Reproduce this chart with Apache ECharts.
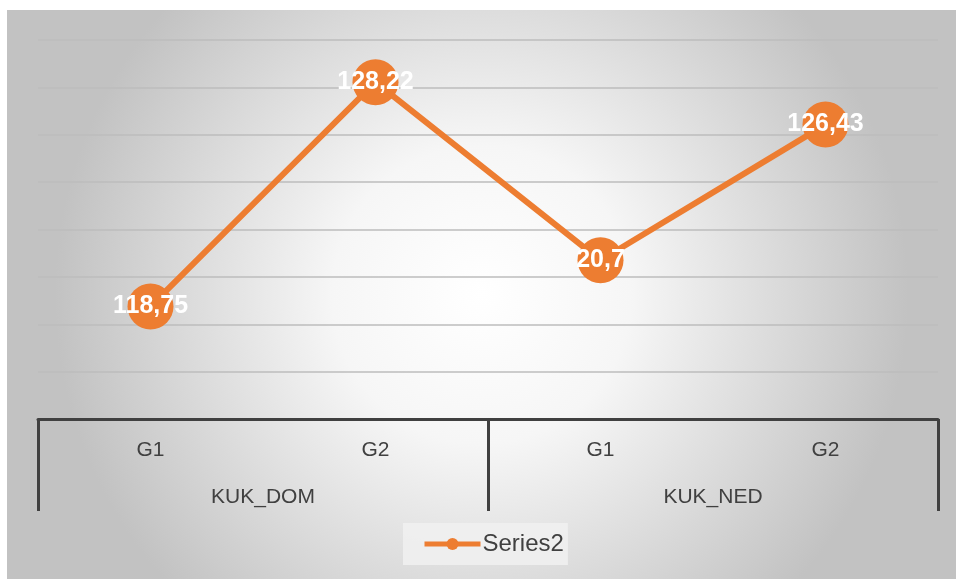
<!DOCTYPE html>
<html>
<head>
<meta charset="utf-8">
<script src="https://cdn.jsdelivr.net/npm/echarts@6/dist/echarts.min.js"></script>
<style>
  html, body { margin: 0; padding: 0; background: #ffffff; }
  #chart { position: absolute; left: 7px; top: 10px; width: 949px; height: 569px; }
</style>
</head>
<body>
<div id="chart"></div>
<script>
var groups = ['G1', 'G2', 'G1', 'G2'];
var outerGroups = ['KUK_DOM', 'KUK_NED'];
var seriesName = 'Series2';
var values = [118.75, 128.22, 120.7, 126.43];
var valueLabels = ['118,75', '128,22', '20,7', '126,43'];

var myChart = echarts.init(document.getElementById('chart'));
var option = {
  backgroundColor: {
    type: 'radial', x: 0.5, y: 0.5, r: 0.75,
    colorStops: [
      { offset: 0, color: '#ffffff' },
      { offset: 0.35, color: '#f6f6f6' },
      { offset: 1, color: '#c2c2c2' }
    ]
  },
  animation: false,
  textStyle: { fontFamily: 'Liberation Sans, Arial, sans-serif' },
  grid: { left: 31, right: 18, top: 30, bottom: 160 },
  legend: {
    bottom: 14,
    left: 396,
    backgroundColor: 'rgba(240,240,240,0.9)',
    padding: [9, 4, 9, 19],
    itemWidth: 56,
    itemHeight: 15,
    itemGap: 4,
    lineStyle: { width: 5 },
    textStyle: { fontSize: 24, color: '#404040', padding: [0, 0, 0, -3] },
    data: [seriesName]
  },
  xAxis: [
    {
      type: 'category',
      data: groups,
      boundaryGap: true,
      axisLine: { lineStyle: { color: '#404040', width: 3 } },
      axisTick: { show: false },
      axisLabel: { color: '#404040', fontSize: 21, margin: 21 },
      splitLine: { show: false }
    },
    {
      type: 'category',
      data: outerGroups,
      position: 'bottom',
      boundaryGap: true,
      axisLine: { show: false },
      axisTick: { show: true, length: 92, interval: 0, lineStyle: { color: '#404040', width: 3 } },
      axisLabel: { color: '#404040', fontSize: 21, margin: 68 }
    }
  ],
  yAxis: {
    type: 'value',
    min: 114,
    max: 130,
    interval: 2,
    axisLine: { show: false },
    axisTick: { show: false },
    axisLabel: { show: false },
    splitLine: { lineStyle: { color: '#bdbdbd', width: 1.5 } }
  },
  series: [
    {
      name: seriesName,
      type: 'line',
      data: values,
      xAxisIndex: 0,
      symbol: 'circle',
      symbolSize: 46,
      itemStyle: { color: '#ED7D31' },
      lineStyle: { color: '#ED7D31', width: 6 },
      label: {
        show: true,
        position: 'inside',
        color: '#ffffff',
        fontSize: 25,
        fontWeight: 'bold',
        formatter: function (p) { return valueLabels[p.dataIndex]; }
      }
    }
  ]
};
myChart.setOption(option);
</script>
</body>
</html>
